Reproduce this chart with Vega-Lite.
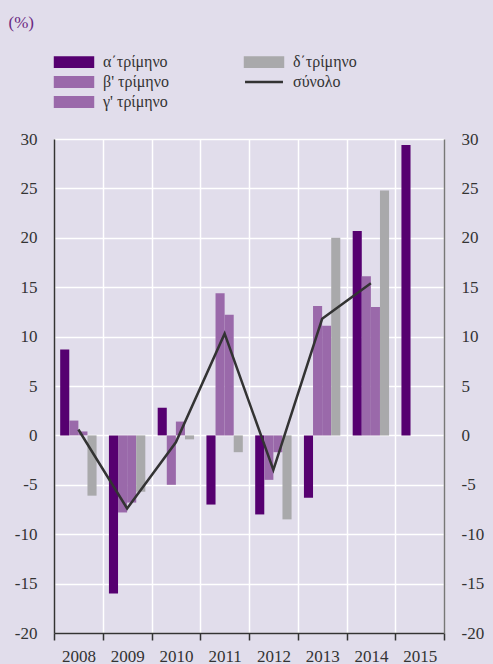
{
  "$schema": "https://vega.github.io/schema/vega-lite/v6.json",
  "width": 390,
  "height": 494,
  "autosize": "none",
  "padding": {"left": 54, "top": 139, "right": 49, "bottom": 31},
  "background": "#e1ddeb",
  "config": {
    "view": {"stroke": null},
    "font": "Liberation Serif",
    "axis": {"labelFont": "Liberation Serif", "titleFont": "Liberation Serif", "labelColor": "#333333", "labelFontSize": 17}
  },
  "datasets": {
    "bars": [
      {"year": "2008", "q": 1, "quarter": "α΄τρίμηνο", "value": 8.7},
      {"year": "2008", "q": 2, "quarter": "β' τρίμηνο", "value": 1.5},
      {"year": "2008", "q": 3, "quarter": "γ' τρίμηνο", "value": 0.4},
      {"year": "2008", "q": 4, "quarter": "δ΄τρίμηνο", "value": -6.1},
      {"year": "2009", "q": 1, "quarter": "α΄τρίμηνο", "value": -16.0},
      {"year": "2009", "q": 2, "quarter": "β' τρίμηνο", "value": -7.8},
      {"year": "2009", "q": 3, "quarter": "γ' τρίμηνο", "value": -6.8},
      {"year": "2009", "q": 4, "quarter": "δ΄τρίμηνο", "value": -5.7},
      {"year": "2010", "q": 1, "quarter": "α΄τρίμηνο", "value": 2.8},
      {"year": "2010", "q": 2, "quarter": "β' τρίμηνο", "value": -5.0},
      {"year": "2010", "q": 3, "quarter": "γ' τρίμηνο", "value": 1.4},
      {"year": "2010", "q": 4, "quarter": "δ΄τρίμηνο", "value": -0.4},
      {"year": "2011", "q": 1, "quarter": "α΄τρίμηνο", "value": -7.0},
      {"year": "2011", "q": 2, "quarter": "β' τρίμηνο", "value": 14.4},
      {"year": "2011", "q": 3, "quarter": "γ' τρίμηνο", "value": 12.2},
      {"year": "2011", "q": 4, "quarter": "δ΄τρίμηνο", "value": -1.7},
      {"year": "2012", "q": 1, "quarter": "α΄τρίμηνο", "value": -8.0},
      {"year": "2012", "q": 2, "quarter": "β' τρίμηνο", "value": -4.5},
      {"year": "2012", "q": 3, "quarter": "γ' τρίμηνο", "value": -1.7},
      {"year": "2012", "q": 4, "quarter": "δ΄τρίμηνο", "value": -8.5},
      {"year": "2013", "q": 1, "quarter": "α΄τρίμηνο", "value": -6.3},
      {"year": "2013", "q": 2, "quarter": "β' τρίμηνο", "value": 13.1},
      {"year": "2013", "q": 3, "quarter": "γ' τρίμηνο", "value": 11.1},
      {"year": "2013", "q": 4, "quarter": "δ΄τρίμηνο", "value": 20.0},
      {"year": "2014", "q": 1, "quarter": "α΄τρίμηνο", "value": 20.7},
      {"year": "2014", "q": 2, "quarter": "β' τρίμηνο", "value": 16.1},
      {"year": "2014", "q": 3, "quarter": "γ' τρίμηνο", "value": 13.0},
      {"year": "2014", "q": 4, "quarter": "δ΄τρίμηνο", "value": 24.8},
      {"year": "2015", "q": 1, "quarter": "α΄τρίμηνο", "value": 29.4}
    ],
    "total": [
      {"year": "2008", "total": 0.6},
      {"year": "2009", "total": -7.4},
      {"year": "2010", "total": -0.7},
      {"year": "2011", "total": 10.3},
      {"year": "2012", "total": -3.5},
      {"year": "2013", "total": 11.8},
      {"year": "2014", "total": 15.4}
    ]
  },
  "layer": [
    {
      "data": {"name": "bars"},
      "mark": {"type": "bar"},
      "encoding": {
        "x": {
          "field": "year", "type": "ordinal",
          "scale": {"paddingInner": 0, "paddingOuter": 0},
          "axis": {
            "title": null, "tickBand": "extent", "grid": true, "gridColor": "#ffffff", "gridWidth": 1.5,
            "domainColor": "#333333", "domainWidth": 1.5, "tickColor": "#333333", "tickSize": 7, "tickWidth": 1.5,
            "labelAngle": 0, "labelPadding": 8, "labelFontSize": 17
          }
        },
        "xOffset": {"field": "q", "type": "ordinal", "scale": {"paddingInner": 0, "paddingOuter": 0.68}},
        "y": {
          "field": "value", "type": "quantitative",
          "scale": {"domain": [-20, 30], "nice": false},
          "axis": {
            "orient": "left",
            "values": [-20, -15, -10, -5, 0, 5, 10, 15, 20, 25, 30],
            "labelExpr": "'' + datum.value",
            "grid": true, "gridColor": "#ffffff", "gridWidth": 1.5,
            "ticks": false, "domainColor": "#333333", "domainWidth": 1.5, "labelPadding": 17,
            "title": "(%)", "titleAngle": 0, "titleAlign": "left", "titleBaseline": "middle",
            "titleX": -46, "titleY": -117, "titleColor": "#6b2a82", "titleFontSize": 17, "titleFontWeight": "normal"
          }
        },
        "color": {
          "field": "quarter", "type": "nominal",
          "scale": {
            "domain": ["α΄τρίμηνο", "β' τρίμηνο", "γ' τρίμηνο", "δ΄τρίμηνο", "σύνολο"],
            "range": ["#560070", "#9a69aa", "#9a69aa", "#a9a9ab", "#333333"]
          },
          "legend": {
            "orient": "none", "legendX": 12, "legendY": -85, "padding": 0,
            "columns": 2, "columnPadding": 71, "rowPadding": 0,
            "title": null, "symbolSize": 90, "symbolType": "M-4,-1H4V1H-4Z",
            "labelFont": "Liberation Serif", "labelFontSize": 16, "labelColor": "#333333", "labelOffset": 21,
            "encode": {
              "symbols": {
                "update": {
                  "shape": {"signal": "datum.value === 'σύνολο' ? 'M-4,0H4' : 'M-4,-1H4V1H-4Z'"},
                  "fill": {"signal": "datum.value === 'σύνολο' ? 'transparent' : scale('color', datum.value)"},
                  "stroke": {"signal": "datum.value === 'σύνολο' ? '#333333' : 'transparent'"},
                  "strokeWidth": {"value": 2.5},
                  "opacity": {"value": 1},
                  "fillOpacity": {"value": 1}
                }
              }
            }
          }
        }
      }
    },
    {
      "data": {"name": "total"},
      "mark": {"type": "line", "strokeWidth": 2.5},
      "encoding": {
        "x": {"field": "year", "type": "ordinal"},
        "y": {
          "field": "total", "type": "quantitative",
          "axis": {
            "orient": "right",
            "values": [-20, -15, -10, -5, 0, 5, 10, 15, 20, 25, 30],
            "labelExpr": "'' + datum.value",
            "grid": false, "ticks": false, "domainColor": "#777777", "domainWidth": 1.5, "labelPadding": 17,
            "title": null
          }
        },
        "color": {"datum": "σύνολο"}
      }
    }
  ],
  "resolve": {"axis": {"y": "independent"}}
}
